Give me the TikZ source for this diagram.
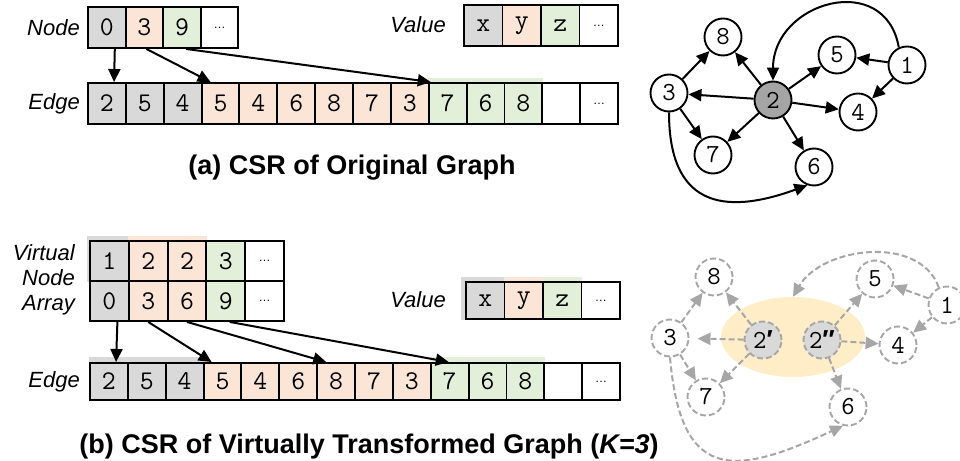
\documentclass[tikz,border=0pt]{standalone}
\usepackage{fontspec}
\setmainfont{Liberation Sans}
\newfontfamily\primefont{Liberation Sans}
\usetikzlibrary{arrows.meta,backgrounds,shapes.geometric,positioning}

\definecolor{cgray}{HTML}{D9D9D9}
\definecolor{cpeach}{HTML}{FBE5D6}
\definecolor{cgreen}{HTML}{E2F0D9}
\definecolor{chub}{HTML}{A5A5A5}
\definecolor{cghost}{HTML}{A6A6A6}
\definecolor{cglow}{HTML}{FEEDC6}

\newcommand{\cellfont}{\ttfamily\fontsize{27}{27}\selectfont}
\newcommand{\vtxfont}{\ttfamily\fontsize{26}{26}\selectfont}
\newcommand{\lblfont}{\itshape\fontsize{22}{25}\selectfont}
\newcommand{\capfont}{\bfseries\fontsize{27}{30}\selectfont}
\newcommand{\more}{{\rmfamily\fontsize{12}{12}\selectfont\dots}}
\newcommand{\pr}{{\primefont\bfseries\char"2032}}
\newcommand{\dpr}{{\primefont\bfseries\char"2033}}

\tikzset{
  cell/.style={draw, line width=1.9pt, minimum width=37.86pt, minimum height=41pt,
    inner sep=0pt, font=\cellfont},
  lbl/.style={font=\lblfont, inner sep=0pt},
  captext/.style={font=\capfont, inner sep=0pt, anchor=base},
  vtx/.style={circle, draw, line width=1.9pt, minimum size=37pt, inner sep=0pt,
    fill=white, font=\vtxfont},
  hub/.style={vtx, fill=chub},
  ghost/.style={vtx, draw=cghost, dash pattern=on 6pt off 3pt},
  arc/.style={-{Triangle[length=13pt,width=12pt]}, line width=2pt},
  ghostarc/.style={arc, draw=cghost, dash pattern=on 6pt off 3pt},
}

\begin{document}
\begin{tikzpicture}[x=1pt, y=1pt]
\useasboundingbox (0,0) rectangle (960,460);

%% (a) CSR of the original graph
\node[lbl, anchor=east] (nodelbl) at (80,432.5) {Node};
\foreach \v/\c [count=\i from 0] in {0/cgray,3/cpeach,9/cgreen,\more/white}
  \node[cell, minimum width=37.6pt, fill=\c] (n\i) at ({88+37.6*(\i+0.5)},432.5) {\v};

\node[lbl, anchor=east] (valuelbl) at (446,435) {Value};
\foreach \v/\c [count=\i from 0] in {x/cgray,y/cpeach,z/cgreen,\more/white}
  \node[cell, minimum width=38.5pt, fill=\c] (v\i) at ({464+38.5*(\i+0.5)},434.5) {\v};

\node[lbl, anchor=east] (edgelbl) at (80,356.5) {Edge};
\foreach \v/\c [count=\i from 0] in {2/cgray,5/cgray,4/cgray,5/cpeach,4/cpeach,6/cpeach,
    8/cpeach,7/cpeach,3/cpeach,7/cgreen,6/cgreen,8/cgreen,{}/white,\more/white}
  \node[cell, fill=\c] (e\i) at ({88+37.86*(\i+0.5)},356.5) {\v};

\begin{scope}[on background layer]
  \fill[cgreen] ([yshift=4pt]e9.north west) rectangle (e11.south east);
\end{scope}

\foreach \s/\t/\a/\b in {n0/e0/8/27, n1/e3/2/10, n2/e9/4/3}
  \draw[arc] ([xshift=\a pt]\s.south) -- ([xshift=\b pt]\t.north west);

\node[captext] (capa) at (352,285) {(a) CSR of Original Graph};

% original graph
\node[hub] (g2) at (773,360) {2};
\node[vtx] (g8) at (723,423) {8};
\node[vtx] (g3) at (669,367) {3};
\node[vtx] (g5) at (837,405) {5};
\node[vtx] (g1) at (907,395) {1};
\node[vtx] (g4) at (858,348) {4};
\node[vtx] (g7) at (713,305) {7};
\node[vtx] (g6) at (814,293) {6};

\foreach \t in {g8,g3,g7,g6,g4,g5}
  \draw[arc] (g2) -- (\t);
\draw[arc] (g1) -- (g5);
\draw[arc] (g1) -- (g4);
\draw[arc] (g3) -- (g8);
\draw[arc] (g3) -- (g7);
\draw[arc] (g1.115) to[out=100, in=90, looseness=1.55] (g2.north);
\draw[arc] (g3.south) to[out=-90, in=200, looseness=1.5] (g6.250);

%% (b) CSR of the virtually transformed graph
\node[lbl, anchor=east, align=right] (vnalbl) at (75,180) {Virtual\\Node\\Array};
\foreach \v/\c [count=\i from 0] in {1/cgray,2/cpeach,2/cpeach,3/cgreen,\more/white}
  \node[cell, minimum width=38.8pt, minimum height=40pt, fill=\c] (a\i) at ({90+38.8*(\i+0.5)},199) {\v};
\foreach \v/\c [count=\i from 0] in {0/cgray,3/cpeach,6/cpeach,9/cgreen,\more/white}
  \node[cell, minimum width=38.8pt, minimum height=40pt, fill=\c] (b\i) at ({90+38.8*(\i+0.5)},159) {\v};

\node[lbl, anchor=east] (valuelbl2) at (446,160) {Value};
\foreach \v/\c [count=\i from 0] in {x/cgray,y/cpeach,z/cgreen,\more/white}
  \node[cell, minimum width=38.5pt, minimum height=37pt, fill=\c] (w\i) at ({466+38.5*(\i+0.5)},159.5) {\v};

\node[lbl, anchor=east] (edgelbl2) at (80,78.5) {Edge};
\foreach \v/\c [count=\i from 0] in {2/cgray,5/cgray,4/cgray,5/cpeach,4/cpeach,6/cpeach,
    8/cpeach,7/cpeach,3/cpeach,7/cgreen,6/cgreen,8/cgreen,{}/white,\more/white}
  \node[cell, minimum height=37pt, fill=\c] (f\i) at ({90+37.86*(\i+0.5)},78.5) {\v};

\begin{scope}[on background layer]
  \fill[cgray] ([shift={(-2pt,4pt)}]a0.north west) rectangle (a0.south east);
  \fill[cpeach] ([yshift=4pt]a1.north west) rectangle (a2.south east);
  \fill[cgray] ([shift={(-4pt,4pt)}]w0.north west) rectangle (w0.south east);
  \fill[cpeach] ([yshift=4pt]w1.north west) rectangle (w1.south east);
  \fill[cgreen] ([yshift=4pt]w2.north west) rectangle (w2.south east);
  \fill[cgray] ([yshift=5pt]f0.north west) rectangle (f2.south east);
  \fill[cgreen] ([yshift=5pt]f9.north west) rectangle (f11.south east);
\end{scope}

\foreach \s/\t/\a/\b in {b0/f0/8/27, b1/f3/0/9, b2/f6/0/10, b3/f9/4/19}
  \draw[arc] ([xshift=\a pt]\s.south) -- ([xshift=\b pt]\t.north west);

\node[captext] (capb) at (369,7) {(b) CSR of Virtually Transformed Graph (\textit{K=3})};

% transformed graph
\node[ellipse, fill=cglow, minimum width=144pt, minimum height=80pt] (glow) at (793,123) {};
\node[ghost, fill=cgray] (h2a) at (763,120) {2\pr};
\node[ghost, fill=cgray] (h2b) at (822,120) {2\dpr};
\node[ghost] (h8) at (714,183) {8};
\node[ghost] (h3) at (670,122) {3};
\node[ghost] (h5) at (875,181) {5};
\node[ghost] (h1) at (947,155) {1};
\node[ghost] (h4) at (898,115) {4};
\node[ghost] (h7) at (706,63) {7};
\node[ghost] (h6) at (848,53) {6};

\draw[ghostarc] (h2a) -- (h8);
\draw[ghostarc, shorten >=8pt] (h2a) -- (h3);
\draw[ghostarc] (h2a) -- (h7);
\foreach \t in {h5,h4,h6}
  \draw[ghostarc] (h2b) -- (\t);
\draw[ghostarc] (h1) -- (h5);
\draw[ghostarc] (h1) -- (h4);
\draw[ghostarc] (h3) -- (h8);
\draw[ghostarc] (h3) -- (h7);
\draw[ghostarc] (h1.115) to[out=110, in=60] (glow.north);
\draw[ghostarc] (h3.south) to[out=-85, in=205, looseness=1.7] (h6.255);

\end{tikzpicture}
\end{document}
